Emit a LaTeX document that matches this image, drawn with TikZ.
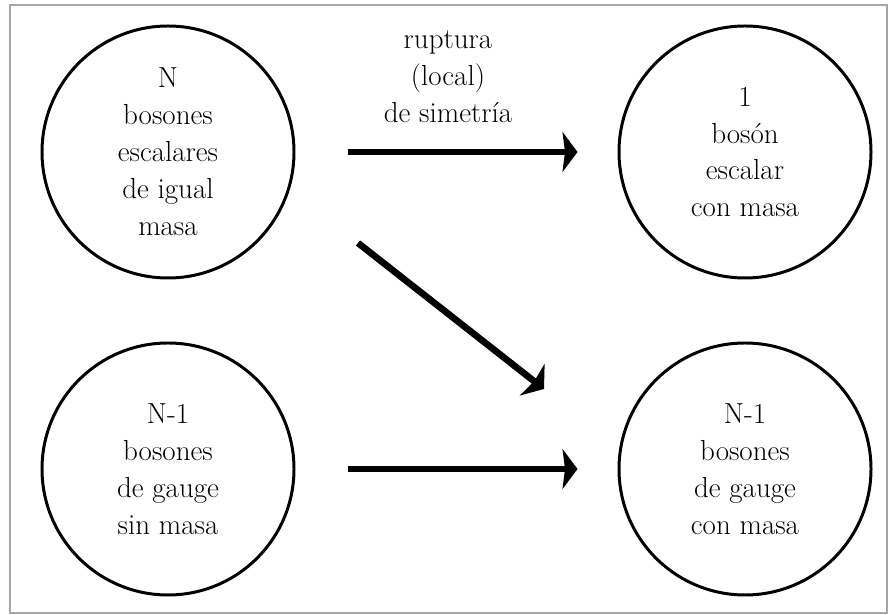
\documentclass[tikz,border=0pt]{standalone}
\usepackage{tikz}
\usetikzlibrary{arrows.meta}

\begin{document}
\begin{tikzpicture}[bola/.style={draw,circle,line width=1.7pt,minimum size=5.04cm,inner sep=0pt,align=center,font=\fontsize{16.5}{21}\selectfont},
flecha/.style={line width=3.8pt,-{Stealth[length=0.3cm,width=0.8cm,inset=0.05cm]}}]

\useasboundingbox (0,0) rectangle (17.78,12.3);
\draw[gray!70,line width=1.2pt] (0.2,0.04) rectangle (17.74,12.2);

\node[bola] (tl) at (3.36,9.26) {N\\bosones\\escalares\\de igual\\masa};

\node[bola] (tr) at (14.9,9.26) {1\\bosón\\escalar\\con masa};

\node[bola] (bl) at (3.36,2.92) {N-1\\bosones\\de gauge\\sin masa};

\node[bola] (br) at (14.9,2.92) {N-1\\bosones\\de gauge\\con masa};

\node[align=center,font=\fontsize{16.5}{21}\selectfont] (rup) at (8.96,10.76) {ruptura\\(local)\\de simetría};

\coordinate (d1) at (7.16,7.44);
\coordinate (d2) at (10.88,4.52);

\draw[flecha,shorten <=1.06cm,shorten >=0.8cm] (tl) -- (tr);
\draw[flecha,shorten <=1.06cm,shorten >=0.8cm] (bl) -- (br);
\draw[flecha] (d1) -- (d2);
\end{tikzpicture}
\end{document}
